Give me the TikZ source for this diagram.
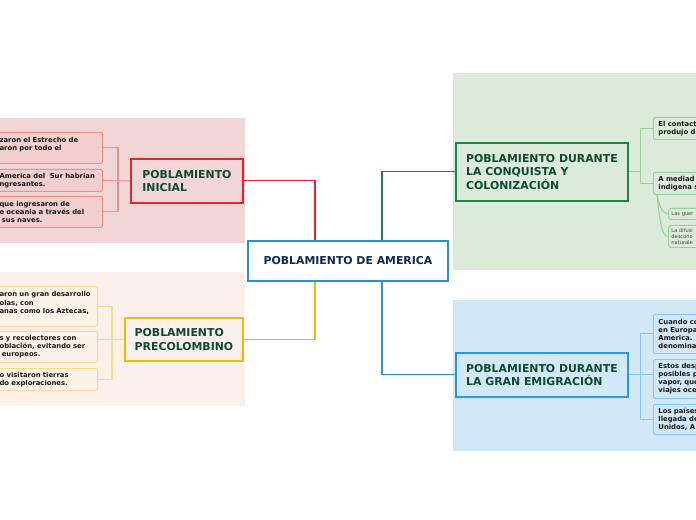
\documentclass[tikz,border=0pt]{standalone}
\usepackage{fontspec}
\setmainfont{DejaVu Sans}
\usetikzlibrary{calc}

\definecolor{rootblue}{HTML}{2B8FD8}
\definecolor{rootnavy}{HTML}{0E2A52}
\definecolor{headgreen}{HTML}{0C4A31}
\definecolor{iniRed}{HTML}{E3262E}
\definecolor{iniBg}{HTML}{F2D5D5}
\definecolor{iniLeaf}{HTML}{EE8E8E}
\definecolor{iniLeafBg}{HTML}{F2CFCF}
\definecolor{preGold}{HTML}{F5B800}
\definecolor{preBg}{HTML}{FCF0EB}
\definecolor{preLeaf}{HTML}{FDD98A}
\definecolor{preLeafBg}{HTML}{FDF2E8}
\definecolor{conGreen}{HTML}{1E8449}
\definecolor{conBg}{HTML}{DCEBD9}
\definecolor{conLeaf}{HTML}{97D0A0}
\definecolor{emiBlue}{HTML}{2B95DD}
\definecolor{emiBg}{HTML}{D3E8F6}
\definecolor{emiLeaf}{HTML}{88C8F0}

\newdimen\pxu \pxu=0.02cm

\begin{document}
\begin{tikzpicture}[x=0.02cm, y=-0.02cm,
    head/.style={draw, line width=1.1pt, align=left, inner sep=0pt, text=headgreen,
      font=\bfseries\fontsize{6.2}{7.7}\selectfont},
    leaf/.style={draw, line width=0.5pt, rounded corners=0.8pt, align=left,
      inner xsep=5\pxu, inner ysep=3.5\pxu, text width=60\pxu, anchor=north west,
      font=\bfseries\fontsize{3.9}{4.6}\selectfont, text=black!90},
    leftleaf/.style={leaf, anchor=north east, inner xsep=3\pxu},
    subleaf/.style={draw=conLeaf, fill=conBg, line width=0.5pt, rounded corners=1.5pt,
      align=left, inner xsep=3\pxu, inner ysep=2.5\pxu, text width=40\pxu, anchor=north west,
      font=\fontsize{2.9}{3.4}\selectfont, text=black!75},
    link/.style={line width=0.6pt}]

  \useasboundingbox (0,0) rectangle (696,520);
  \clip (0,0) rectangle (696,520);

  % Background panels
  \fill[iniBg] (0,118) rectangle (245,243);
  \fill[preBg] (0,272) rectangle (245,406);
  \fill[conBg] (453,73) rectangle (696,270);
  \fill[emiBg] (453,300) rectangle (696,451);

  % Root
  \node[draw=rootblue, line width=1.1pt, fill=white, minimum width=200\pxu, minimum height=40\pxu,
    text=rootnavy, font=\bfseries\fontsize{6.2}{7.7}\selectfont] (am) at (348,261) {POBLAMIENTO DE AMERICA};

  % Branch heads
  \node[head, draw=iniRed, fill=iniBg, minimum width=112\pxu, minimum height=44\pxu, anchor=north west]
    (ini) at (130,158) {POBLAMIENTO\\INICIAL};
  \node[head, draw=preGold, fill=preBg, minimum width=118\pxu, minimum height=43\pxu, anchor=north west]
    (pre) at (124,317) {POBLAMIENTO\\PRECOLOMBINO};
  \node[head, draw=conGreen, fill=conBg, minimum width=172\pxu, minimum height=58\pxu, anchor=north west]
    (con) at (455,142) {POBLAMIENTO DURANTE\\LA CONQUISTA Y\\COLONIZACIÓN};
  \node[head, draw=emiBlue, fill=emiBg, minimum width=172\pxu, minimum height=44\pxu, anchor=north west]
    (emi) at (455,352) {POBLAMIENTO DURANTE\\LA GRAN EMIGRACIÓN};

  % Red leaves
  \node[leftleaf, draw=iniLeaf, fill=iniLeafBg, text width=100\pxu, minimum height=31\pxu]
    (r1) at (103,132) {zaron el Estrecho de\\aron por todo el\\\mbox{}};
  \node[leftleaf, draw=iniLeaf, fill=iniLeafBg, text width=100\pxu, minimum height=22\pxu]
    (r2) at (103,169) {America del~ Sur habrian\\ngresantes.};
  \node[leftleaf, draw=iniLeaf, fill=iniLeafBg, text width=100\pxu, minimum height=31\pxu]
    (r3) at (103,196) {que ingresaron de\\e oceania a través del\\~sus naves.};

  % Gold leaves
  \node[leftleaf, draw=preLeaf, fill=preLeafBg, text width=95\pxu, minimum height=40\pxu]
    (o1) at (98,286) {aron un gran desarrollo\\olas, con\\anas como los Aztecas,\\\mbox{}};
  \node[leftleaf, draw=preLeaf, fill=preLeafBg, text width=95\pxu, minimum height=31\pxu]
    (o2) at (98,331) {s y recolectores con\\oblación, evitando ser\\~europeos.};
  \node[leftleaf, draw=preLeaf, fill=preLeafBg, text width=95\pxu, minimum height=22\pxu]
    (o3) at (98,368) {o visitaron tierras\\do exploraciones.};

  % Green leaves
  \node[leaf, draw=conLeaf, fill=conBg, minimum height=22\pxu] (g1) at (653,117) {El contact\\produjo d};
  \node[leaf, draw=conLeaf, fill=conBg, minimum height=22\pxu] (g2) at (653,172) {A mediad\\indigena s};
  \node[subleaf, minimum height=11\pxu] (gs1) at (668,208) {Las guer};
  \node[subleaf, minimum height=22\pxu] (gs2) at (668,225) {La difusi\\descono\\naturale};

  % Blue leaves
  \node[leaf, draw=emiLeaf, fill=emiBg, minimum height=39\pxu] (b1) at (653,314) {Cuando co\\en Europa\\America. I\\denomina};
  \node[leaf, draw=emiLeaf, fill=emiBg, minimum height=39\pxu] (b2) at (653,359) {Estos desp\\posibles p\\vapor, que\\viajes oce};
  \node[leaf, draw=emiLeaf, fill=emiBg, minimum height=30\pxu] (b3) at (653,404) {Los países\\llegada de\\Unidos, A};

  % Root links
  \draw[link, iniRed] (ini.east) -| ($(am.north)+(-33,0)$);
  \draw[link, preGold] (pre.east) -| ($(am.south)+(-33,0)$);
  \draw[link, conGreen] (con.west) -| ($(am.north)+(34,0)$);
  \draw[link, emiBlue] (emi.west) -| ($(am.south)+(34,0)$);

  % Leaf links
  \draw[link, iniLeaf] (ini.west) -- ++(-12,0) coordinate (rfork) -- (r2.east);
  \draw[link, iniLeaf] (rfork) |- (r1.east);
  \draw[link, iniLeaf] (rfork) |- (r3.east);
  \draw[link, preLeaf] (pre.west) -- ++(-12,0) coordinate (ofork) -- (o2.east |- ofork);
  \draw[link, preLeaf] (ofork) |- (o1.east);
  \draw[link, preLeaf] (ofork) |- (o3.east);
  \draw[link, conLeaf] (con.east) -- ++(12,0) coordinate (gfork);
  \draw[link, conLeaf] (gfork) |- (g1.west);
  \draw[link, conLeaf] (gfork) |- (g2.west);
  \draw[link, emiLeaf] (emi.east) -- ++(12,0) coordinate (bfork) -- (b2.west |- bfork);
  \draw[link, emiLeaf] (bfork) |- (b1.west);
  \draw[link, emiLeaf] (bfork) |- (b3.west);

  % Sub links
  \coordinate (gsub) at ($(g2.south west)+(4,0)$);
  \draw[link, conLeaf] (gsub) .. controls +(2,10) and +(-6,0) .. (gs1.west);
  \draw[link, conLeaf] (gsub) .. controls +(3,28) and +(-6,0) .. (gs2.west);
\end{tikzpicture}
\end{document}
